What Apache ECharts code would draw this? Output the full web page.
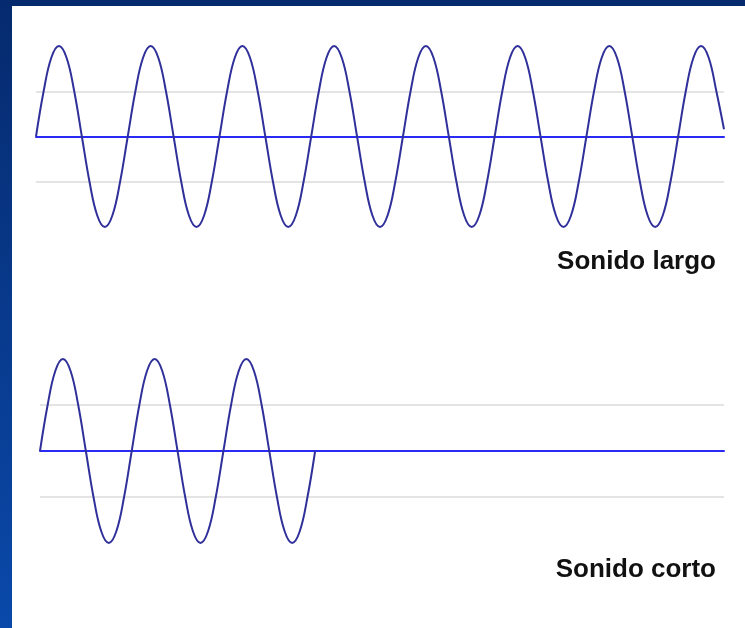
<!DOCTYPE html>
<html>
<head>
<meta charset="utf-8">
<script src="https://cdn.jsdelivr.net/npm/echarts@6/dist/echarts.min.js"></script>
<style>
    html, body {
        margin: 0;
        padding: 0;
        width: 745px;
        height: 628px;
        overflow: hidden;
        background: linear-gradient(to bottom, #062a6e, #0a49aa);
    }
    .panel {
        position: absolute;
        left: 12px;
        top: 6px;
        width: 733px;
        height: 622px;
        background: #fff;
    }
    #chart {
        position: absolute;
        left: 0;
        top: 0;
        width: 745px;
        height: 628px;
    }
</style>
</head>
<body>
<div class="panel"></div>
<div id="chart"></div>
<script>
// valores leidos cada 1/12 de periodo
const largoValues = [
    0, 0.5, 0.87, 1, 0.87, 0.5, 0, -0.5, -0.87, -1, -0.87, -0.5,
    0, 0.5, 0.87, 1, 0.87, 0.5, 0, -0.5, -0.87, -1, -0.87, -0.5,
    0, 0.5, 0.87, 1, 0.87, 0.5, 0, -0.5, -0.87, -1, -0.87, -0.5,
    0, 0.5, 0.87, 1, 0.87, 0.5, 0, -0.5, -0.87, -1, -0.87, -0.5,
    0, 0.5, 0.87, 1, 0.87, 0.5, 0, -0.5, -0.87, -1, -0.87, -0.5,
    0, 0.5, 0.87, 1, 0.87, 0.5, 0, -0.5, -0.87, -1, -0.87, -0.5,
    0, 0.5, 0.87, 1, 0.87, 0.5, 0, -0.5, -0.87, -1, -0.87, -0.5,
    0, 0.5, 0.87, 1, 0.87, 0.5, 0.08
];
const cortoValues = [
    0, 0.5, 0.87, 1, 0.87, 0.5, 0, -0.5, -0.87, -1, -0.87, -0.5,
    0, 0.5, 0.87, 1, 0.87, 0.5, 0, -0.5, -0.87, -1, -0.87, -0.5,
    0, 0.5, 0.87, 1, 0.87, 0.5, 0, -0.5, -0.87, -1, -0.87, -0.5,
    0
];
const labels = ['Sonido largo', 'Sonido corto'];

const waveColor = '#30309a';
const baseColor = '#2a2af5';
const gridColor = '#e4e4e4';

function toPoints(values) {
    return values.map((v, i) => [i, v]);
}

function xAxisFor(idx, max) {
    return {
        type: 'value',
        gridIndex: idx,
        min: 0,
        max: max,
        axisLine: { onZero: true, lineStyle: { color: baseColor, width: 2 } },
        axisTick: { show: false },
        axisLabel: { show: false },
        splitLine: { show: false }
    };
}

function yAxisFor(idx) {
    return {
        type: 'value',
        gridIndex: idx,
        min: -1,
        max: 1,
        interval: 0.5,
        axisLine: { show: false },
        axisTick: { show: false },
        axisLabel: { show: false },
        splitLine: {
            show: true,
            // solo las lineas de +-0.5
            lineStyle: { color: ['transparent', gridColor], width: 2 }
        }
    };
}

const labelStyle = {
    fontFamily: 'Liberation Sans, Arial',
    fontWeight: 'bold',
    fontSize: 26,
    color: '#111'
};

const chart = echarts.init(document.getElementById('chart'));

const option = {
    backgroundColor: 'transparent',
    animation: false,
    title: [
        { text: labels[0], right: 29, top: 249, padding: 0, textStyle: labelStyle },
        { text: labels[1], right: 29, top: 557, padding: 0, textStyle: labelStyle }
    ],
    grid: [
        { left: 36, right: 21, top: 46, height: 181 },
        { left: 40, right: 21, top: 359, height: 184 }
    ],
    xAxis: [xAxisFor(0, 90), xAxisFor(1, 89.5)],
    yAxis: [yAxisFor(0), yAxisFor(1)],
    series: [
        {
            type: 'line',
            xAxisIndex: 0,
            yAxisIndex: 0,
            data: toPoints(largoValues),
            smooth: 0.4,
            showSymbol: false,
            clip: false,
            lineStyle: { color: waveColor, width: 2 }
        },
        {
            type: 'line',
            xAxisIndex: 1,
            yAxisIndex: 1,
            data: toPoints(cortoValues),
            smooth: 0.4,
            showSymbol: false,
            clip: false,
            lineStyle: { color: waveColor, width: 2 }
        }
    ]
};

chart.setOption(option);
</script>
</body>
</html>
